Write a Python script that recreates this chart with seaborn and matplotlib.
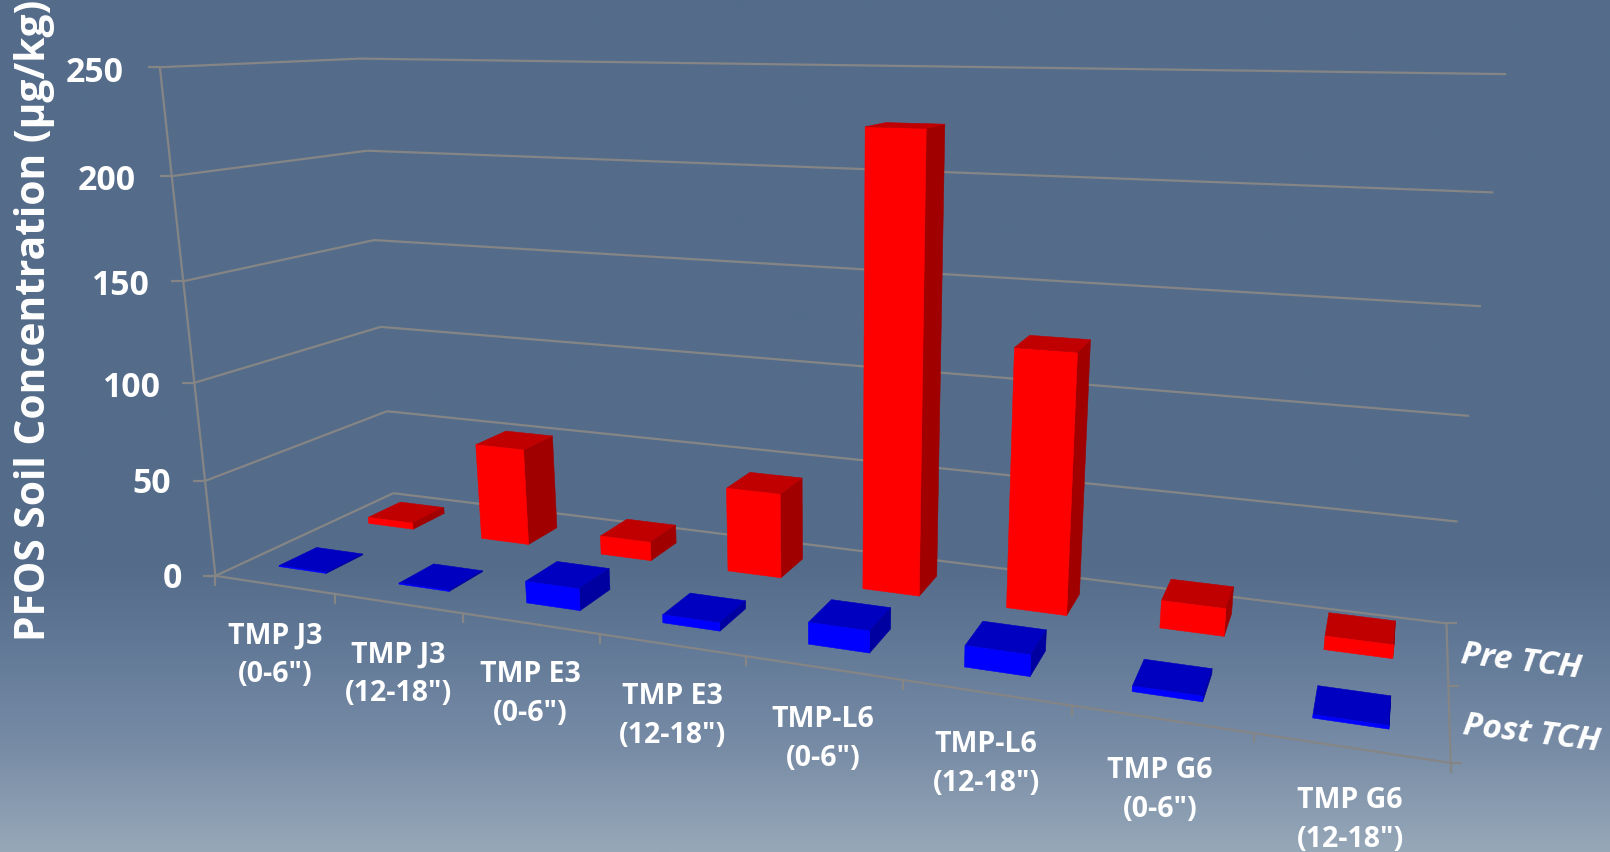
import numpy as np
import pandas as pd
import matplotlib
matplotlib.use("Agg")
import matplotlib.pyplot as plt
from matplotlib.lines import Line2D
import seaborn as sns

sites = ['TMP J3\n(0-6")', 'TMP J3\n(12-18")', 'TMP E3\n(0-6")', 'TMP E3\n(12-18")',
         'TMP-L6\n(0-6")', 'TMP-L6\n(12-18")', 'TMP G6\n(0-6")', 'TMP G6\n(12-18")']
pre_tch = [3.5, 52.5, 10, 44, 224.5, 127, 13.5, 6.5]
post_tch = [0.5, 0.5, 11, 4, 10.5, 10, 2.5, 1.5]
value_ticks = [0, 50, 100, 150, 200, 250]

sns.set_theme(style="white")
plt.rcParams["font.family"] = ["Open Sans", "DejaVu Sans"]

W, H = 1610, 852
fig = plt.figure(figsize=(W / 100, H / 100), dpi=100)

# Slate backdrop that lightens towards the bottom edge
bg = fig.add_axes([0, 0, 1, 1], zorder=0)
bg.set_axis_off()
stops_y = np.array([0, 0.66, 0.75, 0.88, 1.0])
stops_c = np.array([[0x54, 0x6C, 0x8A], [0x54, 0x6C, 0x8A], [0x60, 0x78, 0x96],
                    [0x78, 0x8C, 0xA6], [0x96, 0xA8, 0xB8]]) / 255
ramp_y = np.linspace(0, 1, 400)
ramp = np.stack([np.interp(ramp_y, stops_y, stops_c[:, k]) for k in range(3)], axis=1)[:, None, :]
bg.imshow(ramp, aspect="auto", extent=(0, 1, 1, 0))
bg.set_xlim(0, 1)
bg.set_ylim(1, 0)

# Camera: solved from where the box corners sit on the canvas
box_world = np.array([[0, 0, 0], [0, 0, 250], [0, 2, 0], [0, 2, 250],
                      [8, 2, 0], [8, 2, 250], [8, 0, 0],
                      [0, 0, 50], [0, 2, 50], [8, 2, 50]], float)
box_canvas = np.array([[216, 575], [158, 68], [393, 494], [362, 58],
                       [1447, 623], [1506, 74], [1451, 763],
                       [206, 481], [386, 411], [1457, 522]], float)
rows = []
for (X, Y, Z), (u, v) in zip(box_world, box_canvas):
    rows.append([X, Y, Z, 1, 0, 0, 0, 0, -u * X, -u * Y, -u * Z, -u])
    rows.append([0, 0, 0, 0, X, Y, Z, 1, -v * X, -v * Y, -v * Z, -v])
A = np.array(rows)
scale = np.diag([1 / 8, 1 / 2, 1 / 250, 1] * 3)
_, _, vt = np.linalg.svd(A @ np.linalg.inv(scale))
cam = (np.linalg.inv(scale) @ vt[-1]).reshape(3, 4)
if cam[2] @ np.array([4, 1, 0, 1]) < 0:
    cam = -cam
cam = cam / (cam[2] @ np.array([4, 1, 0, 1]))
depth_row = cam[2] - np.array([0, 0, 0, 0.5])
M = np.vstack([cam[0], cam[1], depth_row, cam[2]])


def project(x, y, z):
    p = cam @ np.array([x, y, z, 1.0])
    return p[0] / p[2], p[1] / p[2]


ax = fig.add_axes([0, 0, 1, 1], projection="3d", zorder=1)
ax.set_axis_off()
ax.patch.set_alpha(0)
ax.get_proj = lambda: M
ax.apply_aspect = lambda *a, **k: None

line_kw = dict(color="#858585", lw=1.6, solid_capstyle="butt", zorder=1, transform=ax.transData)


def edge(start, end):
    (x0, y0), (x1, y1) = project(*start), project(*end)
    ax.add_artist(Line2D([x0, x1], [y0, y1], **line_kw))


def tick(x, y, z, dx, dy):
    px, py = project(x, y, z)
    ax.add_artist(Line2D([px, px + dx], [py, py + dy], **line_kw))


for v in value_ticks:
    edge((0, 0, v), (0, 2, v))
    edge((0, 2, v), (8, 2, v))
edge((0, 0, 0), (0, 0, 250))
edge((0, 0, 0), (8, 0, 0))
edge((8, 0, 0), (8, 2, 0))

for v in value_ticks:
    tick(0, 0, v, -12, 0)
for i in range(9):
    tick(i, 0, 0, 0, 10)
for d in range(3):
    tick(8, d, 0, 11, 0)

# One box per reading, three visible faces each
table = pd.DataFrame({"site": sites, "Pre TCH": pre_tch, "Post TCH": post_tch})
clear = (0, 0, 0, 0)
series = [("Pre TCH", 1, "#FF0000", "#C00000", "#A00000"),
          ("Post TCH", 0, "#0000FF", "#0000C0", "#0000A0")]
for name, row, front, top, side in series:
    for i, val in enumerate(table[name]):
        faces = [clear, top, front, clear, clear, side]
        ax.bar3d(i + 0.288, row + 0.3, 0, 0.4, 0.4, val, color=faces, shade=False,
                 linewidth=0.4, edgecolor=faces)

ax._viewLim.intervalx = (0, W)
ax._viewLim.intervaly = (H, 0)


# Labels placed on the canvas
def label(x, y, s, **kw):
    ax.text2D(x, y, s, transform=ax.transData, color="white", fontweight="bold", **kw)


value_pos = [(182, 579), (171, 484), (160, 388), (149, 286), (136, 181), (124, 73)]
for v, (x, y) in zip(value_ticks, value_pos):
    label(x, y, str(v), fontsize=24.3, ha="right", va="center")

site_pos = [(275, 655), (398, 674), (530, 694), (672, 716), (823, 739), (986, 764), (1160, 790), (1350, 820)]
for s, (x, y) in zip(sites, site_pos):
    label(x, y, s, fontsize=20.5, ha="center", va="center", linespacing=1.42)

label(1521, 662, "Pre TCH", fontsize=24, style="italic", rotation=-7, ha="center", va="center", rotation_mode="anchor")
label(1531, 734, "Post TCH", fontsize=24, style="italic", rotation=-7, ha="center", va="center", rotation_mode="anchor")
label(35, 320, "PFOS Soil Concentration (µg/kg)", fontsize=29.3, rotation=90, ha="center", va="center")

fig.savefig("out.png", dpi=100)
